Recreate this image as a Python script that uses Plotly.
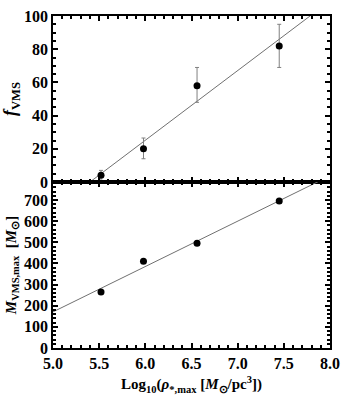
import numpy as np
import plotly.graph_objects as go
from plotly.subplots import make_subplots

# datos
log_rho = [5.52, 5.98, 6.56, 7.45]
f_vms = [4, 20, 58, 82]
f_err_plus = [3, 6.5, 11, 13]
f_err_minus = [3, 6, 10, 13]
m_vms = [265, 410, 495, 695]

x_range = [5.0, 8.0]
x_ticks = [5.0, 5.5, 6.0, 6.5, 7.0, 7.5, 8.0]
x_ticklabels = ["5.0", "5.5", "6.0", "6.5", "7.0", "7.5", "8.0"]
f_ticks = [0, 20, 40, 60, 80, 100]
m_ticks = [0, 100, 200, 300, 400, 500, 600, 700]

# ajustes lineales
a1, b1 = np.polyfit(log_rho, f_vms, 1)
a2, b2 = np.polyfit(log_rho, m_vms, 1)
xf = np.linspace(x_range[0], x_range[1], 200)

def negrita(vals):
    return ["<b>%s</b>" % v for v in vals]

fig = make_subplots(rows=2, cols=1, shared_xaxes=True, vertical_spacing=0)

fig.add_trace(go.Scatter(x=xf, y=a1 * xf + b1, mode="lines",
                         line=dict(color="#707070", width=1)), row=1, col=1)
fig.add_trace(go.Scatter(x=log_rho, y=f_vms, mode="markers",
                         marker=dict(color="black", size=7),
                         error_y=dict(type="data", array=f_err_plus, arrayminus=f_err_minus,
                                      color="#808080", thickness=1, width=2)),
              row=1, col=1)

fig.add_trace(go.Scatter(x=xf, y=a2 * xf + b2, mode="lines",
                         line=dict(color="#707070", width=1)), row=2, col=1)
fig.add_trace(go.Scatter(x=log_rho, y=m_vms, mode="markers",
                         marker=dict(color="black", size=7)), row=2, col=1)

tick_font = dict(family="Liberation Serif", size=16, color="black", weight="bold")
axis_common = dict(showline=True, linecolor="black", linewidth=1.5, mirror="allticks",
                   ticks="inside", ticklen=5, tickwidth=1.5, tickcolor="black",
                   showgrid=False, zeroline=False, tickfont=tick_font, automargin=False,
                   ticklabeloverflow="allow")

fig.update_xaxes(range=x_range, tickvals=x_ticks, ticktext=negrita(x_ticklabels),
                 minor=dict(dtick=0.1, ticks="inside", ticklen=3, tickcolor="black", showgrid=False),
                 **axis_common)
fig.update_xaxes(showticklabels=False, row=1, col=1)
fig.update_xaxes(title=dict(text="<b>Log<sub>10</sub>(<i>ρ</i><sub>*,max</sub> [<i>M</i><sub>⊙</sub>/pc<sup>3</sup>])</b>",
                            font=dict(family="Liberation Serif", size=15, color="black"),
                            standoff=8),
                 row=2, col=1)

fig.update_yaxes(range=[0, 100], tickvals=f_ticks, ticktext=negrita(f_ticks),
                 minor=dict(dtick=5, ticks="inside", ticklen=3, tickcolor="black", showgrid=False),
                 title=dict(text="<b><i>f</i><sub>VMS</sub></b>",
                            font=dict(family="Liberation Serif", size=18, color="black"),
                            standoff=6),
                 row=1, col=1, **axis_common)
fig.update_yaxes(range=[0, 785], tickvals=m_ticks, ticktext=negrita(m_ticks),
                 minor=dict(dtick=20, ticks="inside", ticklen=3, tickcolor="black", showgrid=False),
                 title=dict(text="<b><i>M</i><sub>VMS,max</sub>  [<i>M</i><sub>⊙</sub>]</b>",
                            font=dict(family="Liberation Serif", size=15, color="black"),
                            standoff=4),
                 row=2, col=1, **axis_common)

fig.update_layout(width=349, height=401, showlegend=False,
                  margin=dict(l=53, r=19, t=16, b=53),
                  paper_bgcolor="white", plot_bgcolor="white")

# quitar el margen por defecto del body
fig.write_html("out.html", config={"displayModeBar": False},
               post_script="document.body.style.margin='0';document.body.style.overflow='hidden';")
